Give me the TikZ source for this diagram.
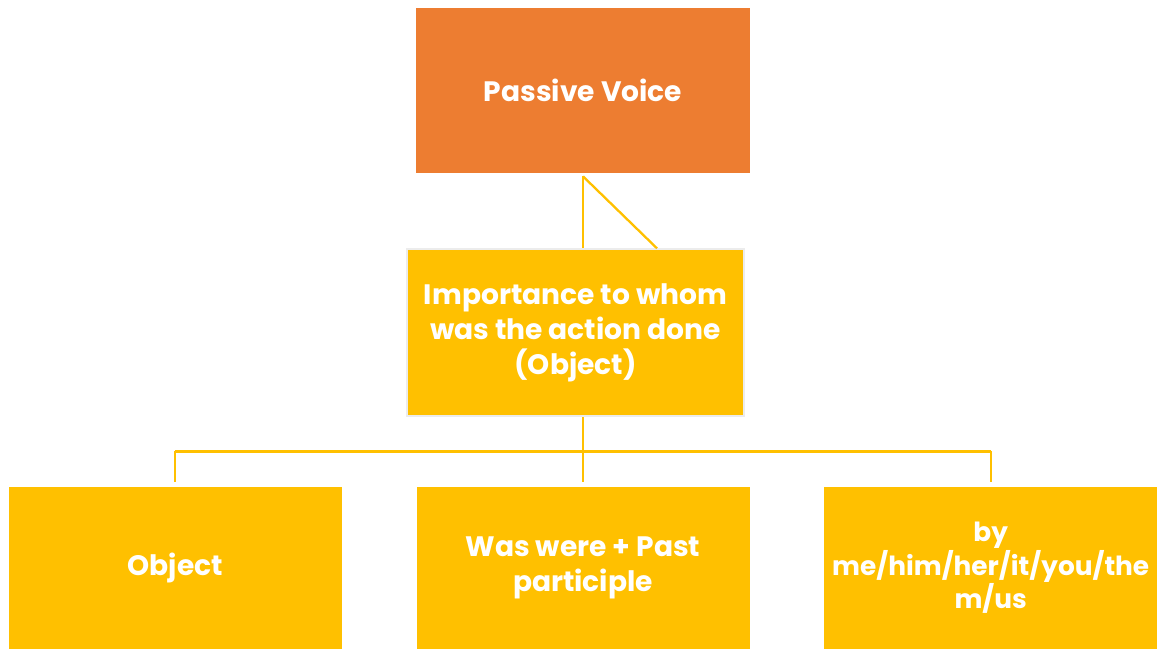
\documentclass[tikz,border=0pt]{standalone}
\usepackage{fontspec}
\setmainfont{Poppins}
\usetikzlibrary{positioning}
\definecolor{voiceorange}{HTML}{ED7D31}
\definecolor{voiceyellow}{HTML}{FFC000}
\tikzset{
  box/.style={rectangle, inner sep=2pt, align=center, text=white,
    font=\fontsize{16}{20}\selectfont\bfseries},
  rootbox/.style={box, fill=voiceorange, minimum width=6.68cm, minimum height=3.3cm},
  midbox/.style={box, fill=voiceyellow, draw=gray!15, line width=1.2pt,
    minimum width=6.74cm, minimum height=3.34cm},
  leafbox/.style={box, fill=voiceyellow, minimum width=6.66cm, minimum height=3.24cm},
  link/.style={draw=voiceyellow, line width=1.3pt},
}
\begin{document}
\begin{tikzpicture}
    \useasboundingbox (0,0) rectangle (23.16,-12.98);

    \node[rootbox] (passive) at (11.66,-1.81) {Passive Voice};
    \node[midbox, below=1.5cm of passive, xshift=-0.15cm] (importance)
      {Importance to whom\\was the action done\\(Object)};

    \node[leafbox, below=1.38cm of importance, xshift=0.15cm] (waswere)
      {Was were + Past\\participle};
    \node[leafbox, left=1.48cm of waswere] (object) {Object};
    \node[leafbox, right=1.48cm of waswere,
      font=\fontsize{15}{16.5}\selectfont\bfseries] (byme)
      {by\\me/him/her/it/you/the\\m/us};

    \coordinate[below=0.06cm of passive.south] (top);
    \coordinate[below=0.68cm of importance.south, xshift=0.15cm] (bar);

    \draw[link] (top) -- (top |- importance.north);
    \draw[link] (top) -- ([xshift=1.63cm]importance.north);

    \draw[link] (importance.south -| bar) -- (bar);
    \draw[link] (object.north |- bar) -- (byme.north |- bar);
    \draw[link] (object.north |- bar) -- ([yshift=0.08cm]object.north);
    \draw[link] (bar) -- ([yshift=0.08cm]waswere.north);
    \draw[link] (byme.north |- bar) -- ([yshift=0.08cm]byme.north);
  \end{tikzpicture}
\end{document}
